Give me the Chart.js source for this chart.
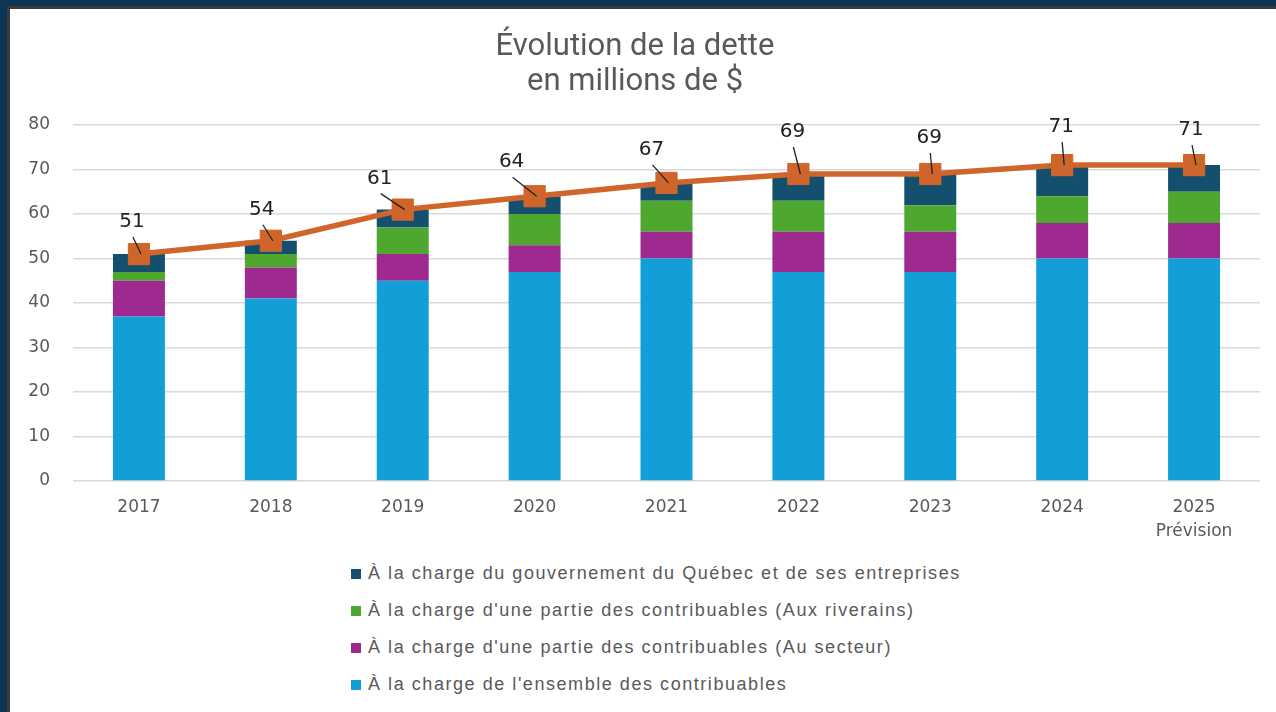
<!DOCTYPE html>
<html>
<head>
<meta charset="utf-8">
<script src="https://cdn.jsdelivr.net/npm/chart.js@4"></script>
<style>
  body { margin: 0; background: #0e3553; width: 1276px; height: 712px; overflow: hidden; }
  #panel { position: absolute; left: 7px; top: 6px; right: 0; bottom: 0; background: #fff;
           border-left: 3px solid #3a3a3a; border-top: 3px solid #3a3a3a; }
  #wrap { position: absolute; left: 0; top: 0; width: 1266px; height: 545px; }
  #legend { position: absolute; left: 341px; top: 546px; font-family: "Liberation Sans", Arial, sans-serif;
            font-size: 18px; letter-spacing: 1.55px; color: #595959; }
  .item { height: 37px; display: flex; align-items: center; }
  .sw { width: 10px; height: 10px; margin-right: 7px; flex: none; }
</style>
</head>
<body>
<div id="panel">
  <div id="wrap"><canvas id="detteChart"></canvas></div>
  <div id="legend"></div>
</div>
<script>
// valeurs (millions de $)
const years = ["2017", "2018", "2019", "2020", "2021", "2022", "2023", "2024", ["2025", "Prévision"]];
const ensemble = [37, 41, 45, 47, 50, 47, 47, 50, 50];
const secteur = [8, 7, 6, 6, 6, 9, 9, 8, 8];
const riverains = [2, 3, 6, 7, 7, 7, 6, 6, 7];
const gouvernement = [4, 3, 4, 4, 4, 6, 7, 7, 6];
const totalDette = [51, 54, 61, 64, 67, 69, 69, 71, 71];

// décalage des étiquettes par rapport au point (style seulement)
const labelShift = [[-7, -32], [-9, -31], [-23, -31], [-23, -34], [-15, -33], [-6, -42], [-1, -36], [-1, -38], [-3, -35]];

const barOpts = { type: "bar", order: 1, categoryPercentage: 1, barPercentage: 0.394, borderWidth: 0 };

const leaderLabels = {
    id: "leaderLabels",
    afterDatasetsDraw(chart) {
        const meta = chart.getDatasetMeta(4);
        const ctx = chart.ctx;
        ctx.save();
        ctx.font = "20px 'DejaVu Sans'";
        ctx.fillStyle = "#222";
        ctx.strokeStyle = "#222";
        ctx.lineWidth = 1.3;
        ctx.textAlign = "center";
        ctx.textBaseline = "middle";
        meta.data.forEach((pt, i) => {
            const lx = pt.x + labelShift[i][0], ly = pt.y + labelShift[i][1];
            ctx.beginPath();
            ctx.moveTo(lx + 1, ly + 15);
            ctx.lineTo(pt.x + 2, pt.y);
            ctx.stroke();
            ctx.fillText(totalDette[i], lx, ly);
        });
        ctx.restore();
    }
};

const chart = new Chart(document.getElementById("detteChart"), {
    data: {
        labels: years,
        datasets: [
            { ...barOpts, label: "À la charge de l'ensemble des contribuables", data: ensemble, backgroundColor: "#129fd7" },
            { ...barOpts, label: "À la charge d'une partie des contribuables (Au secteur)", data: secteur, backgroundColor: "#9e2a8f" },
            { ...barOpts, label: "À la charge d'une partie des contribuables (Aux riverains)", data: riverains, backgroundColor: "#4ea72e" },
            { ...barOpts, label: "À la charge du gouvernement du Québec et de ses entreprises", data: gouvernement, backgroundColor: "#14506e" },
            {
                type: "line", order: 0, label: "Total", data: totalDette,
                borderColor: "#d0652b", borderWidth: 5.5, tension: 0,
                pointStyle: "rect", pointRadius: 15, pointBackgroundColor: "#d0652b",
                pointBorderColor: "#d0652b", pointBorderWidth: 1
            }
        ]
    },
    options: {
        responsive: true,
        maintainAspectRatio: false,
        animation: false,
        layout: { padding: { left: 0, right: 16, top: 0, bottom: 0 } },
        plugins: {
            legend: { display: false },
            tooltip: { enabled: false },
            title: {
                display: true,
                text: ["Évolution de la dette", "en millions de $"],
                color: "#595959",
                font: { family: "Roboto", size: 31, weight: "normal", lineHeight: 1.13 },
                padding: { top: 21, bottom: 25 }
            }
        },
        scales: {
            x: {
                stacked: true,
                grid: { display: false },
                border: { display: false },
                ticks: { color: "#595959", font: { family: "DejaVu Sans", size: 17, lineHeight: 1.45 }, padding: 6, maxRotation: 0 },
                afterFit(s) { s.height = 73; }
            },
            y: {
                stacked: true,
                min: 0, max: 80,
                grid: { color: "#d9d9d9", drawTicks: false, lineWidth: 1.5 },
                border: { display: false },
                ticks: { stepSize: 10, color: "#595959", font: { family: "DejaVu Sans", size: 17 }, padding: 23 },
                afterFit(s) { s.width = 63; }
            }
        }
    },
    plugins: [leaderLabels]
});

// légende verticale construite à partir des séries
const legendBox = document.getElementById("legend");
chart.data.datasets.slice(0, 4).reverse().forEach(ds => {
    const row = document.createElement("div");
    row.className = "item";
    const sw = document.createElement("span");
    sw.className = "sw";
    sw.style.background = ds.backgroundColor;
    const txt = document.createElement("span");
    txt.textContent = ds.label;
    row.appendChild(sw);
    row.appendChild(txt);
    legendBox.appendChild(row);
});
</script>
</body>
</html>
